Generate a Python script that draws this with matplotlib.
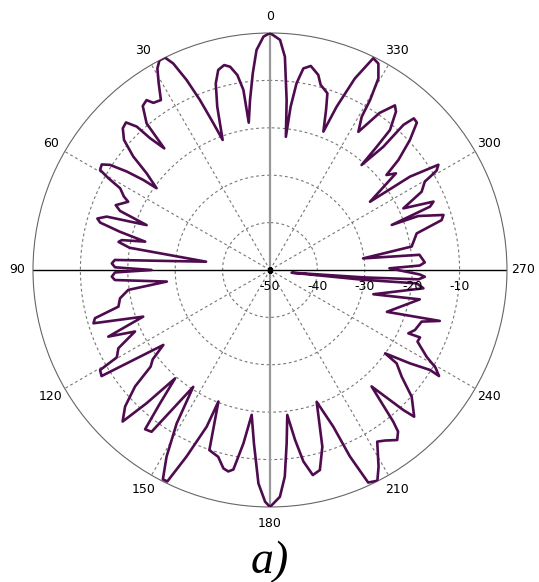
import numpy as np
import matplotlib
matplotlib.use("Agg")
import matplotlib.pyplot as plt

# Radiation pattern trace: angle (deg, counter-clockwise from top) and level (dB), in path order
angle_deg = [
    0.0, 1.6, 3.5, 5.0, 6.7, 8.2, 8.4, 9.5, 11.1, 12.6, 14.5, 16.2, 17.9, 20.0,
    21.1, 22.4, 23.7, 25.1, 26.3, 27.8, 29.2, 30.8, 32.7, 34.9, 36.0, 37.8, 40.1, 41.0,
    42.3, 42.9, 44.3, 46.1, 48.3, 50.3, 51.9, 54.2, 54.6, 55.5, 56.7, 57.9, 59.5, 60.4,
    61.4, 63.3, 64.3, 67.2, 68.5, 70.0, 71.9, 73.4, 74.4, 75.7, 77.2, 78.6, 79.5, 81.0,
    82.6, 86.3, 87.6, 89.0, 90.0, 90.9, 92.4, 93.7, 96.4, 98.0, 100.7, 103.6, 105.4, 106.8,
    110.2, 112.4, 114.5, 117.3, 119.7, 120.5, 122.2, 125.1, 127.3, 129.0, 130.8, 133.3, 135.8,
    137.2, 138.8, 140.5, 141.9, 143.8, 146.7, 148.7, 151.0, 152.9, 154.1, 155.9, 158.0, 158.6,
    161.4, 164.5, 166.8, 168.3, 169.6, 171.3, 172.8, 174.7, 176.9, 178.8, 180.0,
    182.5, 184.1, 185.5, 186.8, 188.4, 189.9, 191.8, 194.0, 196.5, 199.5,
    202.0, 203.2, 204.8, 207.0, 208.9, 212.0, 214.0, 216.8, 218.4, 219.1, 221.1,
    223.6, 224.5, 228.2, 231.0, 233.6, 234.1, 236.3, 238.0, 237.9, 239.5, 241.0, 244.1,
    245.8, 245.4, 247.5, 251.2, 253.3, 250.3, 258.9, 256.8, 263.2, 264.8, 264.0, 262.9,
    265.5, 266.4, 267.5, 268.3, 270.8, 271.7, 272.8, 275.8, 277.1, 279.4, 284.0, 286.2,
    287.6, 290.0, 290.3, 291.6, 292.7, 294.8, 297.3, 299.7, 300.8, 302.0, 303.7, 304.3,
    307.5, 309.2, 310.6, 312.9, 315.1, 316.5, 317.4, 317.4, 318.9, 319.1, 319.4, 321.5,
    322.8, 325.1, 327.4, 329.1, 329.5, 330.5, 332.3, 334.0, 336.1, 337.8, 338.9, 340.7,
    342.0, 344.7, 346.1, 348.7, 350.6, 351.9, 352.8, 353.2, 354.4, 356.0, 357.5, 360.0,
]
level_db = [
    0.0, -0.75, -3.5, -8.35, -13.9, -18.6, -11.6, -8.3, -6.3, -5.7, -6.4, -9.0, -13.8, -20.8,
    -16.8, -11.2, -6.2, -1.9, 0.0, 0.0, -1.3, -4.15, -7.4, -7.0, -5.7, -6.2, -9.6, -16.0,
    -12.4, -8.7, -6.5, -6.9, -8.75, -12.5, -16.9, -20.5, -17.2, -13.3, -9.6, -8.1, -8.4, -10.8,
    -14.0, -15.5, -16.8, -14.7, -16.0, -22.3, -13.75, -12.0, -12.8, -17.3, -23.0, -18.1, -17.5, -20.0,
    -36.4, -17.2, -16.6, -17.3, -25.0, -17.3, -16.6, -17.2, -28.1, -19.8, -17.8, -17.1, -11.7, -11.1,
    -21.5, -13.1, -18.7, -14.0, -12.8, -8.4, -8.0, -22.5, -18.9, -17.6, -12.4, -8.0, -5.4,
    -11.7, -19.6, -13.5, -7.3, -7.7, -20.5, -12.1, -5.0, -0.4, -0.4, -6.9, -14.35, -20.2,
    -9.9, -9.1, -7.0, -6.6, -7.2, -13.0, -19.2, -13.3, -4.9, -1.1, 0.0,
    -2.1, -6.3, -13.3, -19.2, -13.75, -9.0, -5.8, -6.5, -11.1, -20.5,
    -14.35, -7.2, -0.6, -0.1, -2.6, -7.3, -6.6, -5.2, -6.5, -8.75, -17.4,
    -9.2, -6.6, -9.9, -14.25, -16.8, -20.0, -14.5, -10.2, -7.9, -9.5, -12.2, -15.4,
    -15.3, -17.9, -16.9, -16.2, -12.6, -23.8, -17.8, -27.6, -17.4, -18.9, -30.2, -45.4,
    -30.0, -18.6, -17.3, -18.4, -24.8, -18.4, -17.3, -18.3, -30.2, -19.7, -18.1, -12.3,
    -11.6, -16.7, -22.6, -13.7, -12.6, -19.0, -14.0, -12.4, -9.1, -8.1, -14.5, -24.45,
    -16.5, -18.3, -14.3, -9.7, -6.1, -5.9, -8.4, -14.7, -20.6, -15.6, -11.1, -7.3,
    -6.4, -9.6, -15.4, -12.3, -8.4, -3.55, -0.8, -0.3, -5.8, -12.8, -18.7, -14.2,
    -10.8, -9.5, -7.6, -6.1, -6.9, -10.2, -15.3, -21.7, -14.0, -4.9, -1.4, 0.0,
]

# Axis layout
r_min, r_max = -50, 0
ring_levels = [-40, -30, -20, -10]
ring_labels = ["-50", "-40", "-30", "-20", "-10"]
ring_label_levels = [-50, -40, -30, -20, -10]
angle_ticks = list(range(0, 360, 30))
angle_labels = [str(a) for a in angle_ticks]
caption = "a)"

trace_color = "#4e0b4e"
grid_color = "#777777"

fig = plt.figure(figsize=(5.39, 5.82), dpi=100)
ax = fig.add_axes([0.0612, 0.1289, 0.8794, 0.8144], projection="polar")
ax.set_theta_zero_location("N")
ax.set_theta_direction(1)
ax.set_rlim(r_min, r_max)
ax.grid(False)
ax.set_xticks([])
ax.set_yticks([])
ax.spines["polar"].set_color("#666666")
ax.spines["polar"].set_linewidth(0.8)

full = np.linspace(0, 2 * np.pi, 721)
for lev in ring_levels:
    ax.plot(full, np.full_like(full, lev), color=grid_color, lw=0.8,
            ls=(0, (2.5, 2.5)), zorder=1)

for a in angle_ticks:
    if a % 90 == 0:
        continue
    t = np.radians(a)
    ax.plot([t, t], [r_min, r_max], color=grid_color, lw=0.8,
            ls=(0, (2.5, 2.5)), zorder=1)

# Principal axes
ax.plot([0, 0], [r_min, r_max], color="#999999", lw=1.6, zorder=1)
ax.plot([np.pi, np.pi], [r_min, r_max], color="#999999", lw=1.6, zorder=1)
ax.plot([np.pi / 2, np.pi / 2], [r_min, r_max], color="black", lw=1.0, zorder=1)
ax.plot([3 * np.pi / 2, 3 * np.pi / 2], [r_min, r_max], color="black", lw=1.0, zorder=1)

# Pattern trace
ax.plot(np.radians(angle_deg), level_db, color=trace_color, lw=1.9, zorder=3,
        solid_joinstyle="round")

# Centre marker
ax.plot([0], [r_min], marker="s", ms=3.5, color="black", mec="black", zorder=4)

# Angle labels outside the outer circle
for a, lab in zip(angle_ticks, angle_labels):
    ax.text(np.radians(a), r_max + 3.4, lab, ha="center", va="center",
            fontsize=9, family="DejaVu Sans", clip_on=False)

# Level labels along the right-hand axis
for lev, lab in zip(ring_label_levels, ring_labels):
    ax.annotate(lab, xy=(np.radians(270), lev), xytext=(0, -7),
                textcoords="offset points", ha="center", va="top",
                fontsize=9, family="DejaVu Sans", zorder=5,
                annotation_clip=False)

fig.text(0.5, 0.034, caption, ha="center", va="center", fontsize=33,
         family="Liberation Serif", style="italic")

fig.savefig("out.png", dpi=100)
